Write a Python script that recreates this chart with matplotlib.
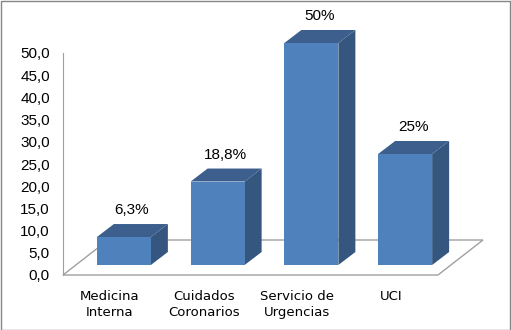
import matplotlib
matplotlib.use("Agg")
import matplotlib.pyplot as plt
from matplotlib.patches import Polygon, Rectangle

# datos
categorias = ["Medicina\nInterna", "Cuidados\nCoronarios", "Servicio de\nUrgencias", "UCI"]
valores = [6.3, 18.8, 50.0, 25.0]
etiquetas = ["6,3%", "18,8%", "50%", "25%"]
y_ticks = [0, 5, 10, 15, 20, 25, 30, 35, 40, 45, 50]

FRONT = "#4F81BD"
SIDE = "#34567F"
TOP = "#3C5F8E"
GRIS = "#A0A0A0"

W, H = 511, 330
fig = plt.figure(figsize=(W / 100, H / 100), dpi=100)
ax = fig.add_axes([63 / W, 55 / H, 375 / W, 222 / H])
ax.set_xlim(0, len(valores))
ax.set_ylim(0, 50)

# pixeles -> unidades de datos
sx = len(valores) / 375
sy = 50 / 222

# suelo en perspectiva
fx, fy = 45 * sx, 35 * sy
suelo = Polygon([(0, 0), (len(valores), 0), (len(valores) + fx, fy), (fx, fy)],
                closed=True, facecolor="none", edgecolor=GRIS, lw=1,
                clip_on=False, zorder=1)
ax.add_patch(suelo)

# barras 3D
ancho = 54 * sx
bx, by = 14 * sx, 10 * sy      # desplazamiento de la base
dx, dy = 17 * sx, 13 * sy      # profundidad de la barra
for i, v in enumerate(valores):
    x0 = i + 0.5 - ancho / 2 + bx
    x1 = x0 + ancho
    y0, y1 = by, by + v
    ax.add_patch(Polygon([(x1, y0), (x1 + dx, y0 + dy), (x1 + dx, y1 + dy), (x1, y1)],
                         closed=True, facecolor=SIDE, edgecolor="none",
                         clip_on=False, zorder=3))
    ax.add_patch(Polygon([(x0, y1), (x1, y1), (x1 + dx, y1 + dy), (x0 + dx, y1 + dy)],
                         closed=True, facecolor=TOP, edgecolor="none",
                         clip_on=False, zorder=3))
    ax.add_patch(Rectangle((x0, y0), ancho, v, facecolor=FRONT, edgecolor="none",
                           clip_on=False, zorder=4))
    ax.annotate(etiquetas[i], xy=(i + 0.5, v), xytext=(22 * 0.72, 37 * 0.72),
                textcoords="offset points", ha="center", va="center",
                fontsize=11, family="Liberation Sans", annotation_clip=False)

# ejes
for s in ["top", "right", "bottom"]:
    ax.spines[s].set_visible(False)
ax.spines["left"].set_color(GRIS)
ax.patch.set_visible(False)

ax.set_yticks(y_ticks)
ax.set_yticklabels([f"{t:.1f}".replace(".", ",") for t in y_ticks],
                   fontsize=11, family="Liberation Sans")
ax.tick_params(axis="y", length=0, pad=9.4)

ax.set_xticks([i + 0.5 for i in range(len(categorias))])
ax.set_xticklabels(categorias, fontsize=9.5, family="DejaVu Sans", linespacing=1.3)
ax.tick_params(axis="x", length=0, pad=10.5)

# borde del grafico
fig.patches.append(Rectangle((0.5 / W, 0.5 / H), 1 - 1.5 / W, 1 - 1.5 / H,
                             transform=fig.transFigure, facecolor="none",
                             edgecolor="#868686", lw=1))

fig.savefig("out.png", dpi=100)
